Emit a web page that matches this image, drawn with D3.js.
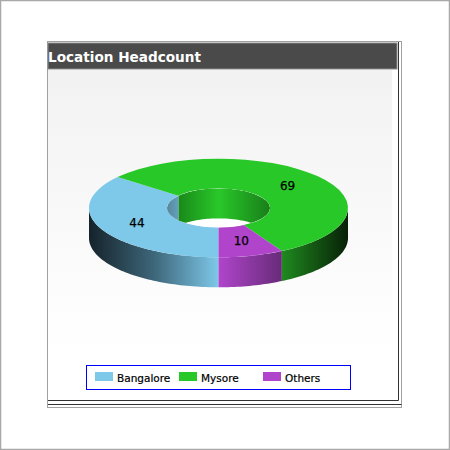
<!DOCTYPE html>
<html>
<head>
<meta charset="utf-8">
<script src="https://cdn.jsdelivr.net/npm/d3@7"></script>
<style>
  html, body { margin: 0; padding: 0; background: #fff; }
  svg { display: block; }
  text { font-family: "DejaVu Sans", sans-serif; }
</style>
</head>
<body>
<script>
// Chart data
const categories = ['Bangalore', 'Mysore', 'Others'];
const values = [44, 69, 10];
const colors = ['#7ec8e9', '#29c829', '#b045cc'];
const titleText = 'Location Headcount';

const width = 450;
const height = 450;

// Donut geometry
const cx = 218.5;
const cy = 208;
const outerRx = 129.5;
const innerRx = 51.5;
const squash = 0.381;
const depth = 30;

const svg = d3.select('body')
  .append('svg')
  .attr('width', width)
  .attr('height', height);

const defs = svg.append('defs');

// Panel background
const bg = defs.append('linearGradient')
  .attr('id', 'panelBg')
  .attr('x1', 0).attr('y1', 0).attr('x2', 0).attr('y2', 1);
bg.append('stop').attr('offset', '0%').attr('stop-color', '#f2f2f2');
bg.append('stop').attr('offset', '100%').attr('stop-color', '#ffffff');

// Image border
svg.append('rect')
  .attr('x', 0.5).attr('y', 0.5)
  .attr('width', width - 1).attr('height', height - 1)
  .attr('fill', '#fff')
  .attr('stroke', '#a8a8a8')
  .attr('stroke-width', 1.5);

// Panel frame
svg.append('rect')
  .attr('x', 47.5).attr('y', 41.5)
  .attr('width', 354).attr('height', 366)
  .attr('fill', '#fff')
  .attr('stroke', '#a0a0a0');
svg.append('rect')
  .attr('x', 48).attr('y', 70)
  .attr('width', 344).attr('height', 280)
  .attr('fill', 'url(#panelBg)');
svg.append('rect')
  .attr('x', 48).attr('y', 43)
  .attr('width', 349).attr('height', 26)
  .attr('fill', '#4a4a4a')
  .attr('stroke', '#8a8a8a');
svg.append('path')
  .attr('d', 'M48,400.5H398.5V42M48,404.5H401.5')
  .attr('fill', 'none')
  .attr('stroke', '#333');

svg.append('text')
  .attr('x', 48)
  .attr('y', 62)
  .attr('fill', '#fff')
  .attr('font-weight', 'bold')
  .attr('font-size', 14.5)
  .attr('textLength', 153)
  .attr('lengthAdjust', 'spacingAndGlyphs')
  .text(titleText);

// Slices, clockwise from the bottom of the ring
const pie = d3.pie()
  .sort(null)
  .startAngle(Math.PI)
  .endAngle(3 * Math.PI);
const arcs = pie(values).map((d, i) => ({ ...d, name: categories[i], color: colors[i] }));

const px = (r, a) => cx + r * Math.sin(a);
const py = (r, a) => cy - r * squash * Math.cos(a);

// Wall band between two angles, on the ring of radius r
function wall(r, a0, a1) {
  const n = Math.max(2, Math.ceil(Math.abs(a1 - a0) * 40));
  const ts = d3.range(n + 1).map(i => a0 + (a1 - a0) * i / n);
  const top = ts.map(t => [px(r, t), py(r, t)]);
  const bottom = ts.slice().reverse().map(t => [px(r, t), py(r, t) + depth]);
  return d3.line()(top.concat(bottom)) + 'Z';
}

function wallGradient(id, x1, x2, stops) {
  const g = defs.append('linearGradient')
    .attr('id', id)
    .attr('gradientUnits', 'userSpaceOnUse')
    .attr('x1', x1).attr('x2', x2).attr('y1', 0).attr('y2', 0);
  stops.forEach(s => g.append('stop').attr('offset', s[0]).attr('stop-color', s[1]));
}

const purpleEdgeX = px(outerRx, arcs[2].startAngle);
wallGradient('outerBlue', cx - outerRx, cx, [[0, '#15232b'], [0.5, '#3d6679'], [1, '#7ec8e9']]);
wallGradient('outerGreen', purpleEdgeX, cx + outerRx, [[0, '#1f8a1f'], [1, '#072007']]);
wallGradient('outerPurple', cx, purpleEdgeX, [[0, '#b045cc'], [1, '#672b78']]);
wallGradient('innerGreen', cx - innerRx, cx + innerRx, [[0, '#1a8a1a'], [0.12, '#1a8a1a'], [0.5, '#29c829'], [1, '#187f18']]);
wallGradient('innerBlue', cx - innerRx, cx - innerRx * 0.78, [[0, '#57889f'], [1, '#64a0ba']]);

const chart = svg.append('g');

// Outer wall, only the front half shows
chart.append('path')
  .attr('d', wall(outerRx, arcs[0].startAngle, 3 * Math.PI / 2))
  .attr('fill', 'url(#outerBlue)');
chart.append('path')
  .attr('d', wall(outerRx, arcs[2].startAngle, 2.5 * Math.PI))
  .attr('fill', 'url(#outerGreen)');
chart.append('path')
  .attr('d', wall(outerRx, arcs[2].startAngle, arcs[2].endAngle))
  .attr('fill', 'url(#outerPurple)');

// Top face, flattened with a scale
const arc = d3.arc().innerRadius(innerRx).outerRadius(outerRx);
chart.append('g')
  .attr('transform', `translate(${cx},${cy}) scale(1,${squash})`)
  .selectAll('path')
  .data(arcs)
  .join('path')
  .attr('d', arc)
  .attr('fill', d => d.color);

// Hole: white floor, then the far side of the inner wall clipped to it
const hole = defs.append('clipPath').attr('id', 'hole');
hole.append('ellipse')
  .attr('cx', cx).attr('cy', cy)
  .attr('rx', innerRx).attr('ry', innerRx * squash);

const holeG = chart.append('g').attr('clip-path', 'url(#hole)');
holeG.append('ellipse')
  .attr('cx', cx).attr('cy', cy)
  .attr('rx', innerRx).attr('ry', innerRx * squash)
  .attr('fill', '#fff');
holeG.append('path')
  .attr('d', wall(innerRx, arcs[1].startAngle, arcs[1].endAngle))
  .attr('fill', 'url(#innerGreen)');
holeG.append('path')
  .attr('d', wall(innerRx, 3 * Math.PI / 2, arcs[1].startAngle))
  .attr('fill', 'url(#innerBlue)');

// Value labels
const labelRadius = (innerRx + outerRx) / 2;
chart.selectAll('text.value')
  .data(arcs)
  .join('text')
  .attr('class', 'value')
  .attr('x', d => px(labelRadius, (d.startAngle + d.endAngle) / 2))
  .attr('y', d => py(labelRadius, (d.startAngle + d.endAngle) / 2) + 4)
  .attr('text-anchor', 'middle')
  .attr('font-size', 12)
  .attr('fill', '#000')
  .attr('stroke', '#000')
  .attr('stroke-width', 0.25)
  .text(d => d.value);

// Legend
svg.append('rect')
  .attr('x', 86.5).attr('y', 365.5)
  .attr('width', 264).attr('height', 24)
  .attr('fill', '#fff')
  .attr('stroke', '#0000ff');

const legendX = d3.scalePoint()
  .domain(categories)
  .range([95, 263]);

const legend = svg.selectAll('g.legend')
  .data(categories)
  .join('g')
  .attr('class', 'legend')
  .attr('transform', d => `translate(${legendX(d)},372)`);
legend.append('rect')
  .attr('width', 18).attr('height', 9)
  .attr('fill', (d, i) => colors[i]);
legend.append('text')
  .attr('x', 22)
  .attr('y', 10)
  .attr('font-size', 10.5)
  .attr('fill', '#000')
  .attr('stroke', '#000')
  .attr('stroke-width', 0.2)
  .text(d => d);
</script>
</body>
</html>
